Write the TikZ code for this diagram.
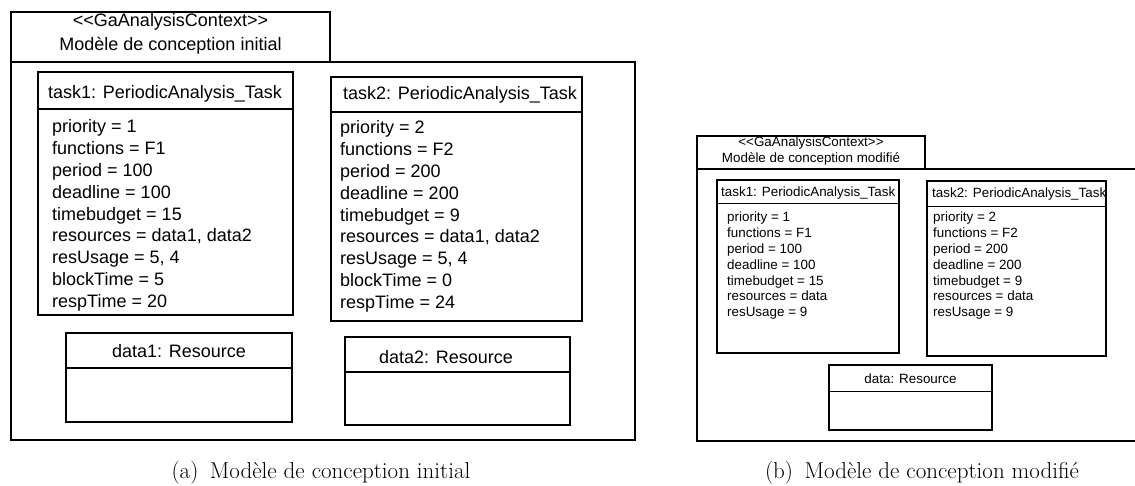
\documentclass[tikz,border=0pt]{standalone}
\usepackage{fontspec}
\newfontfamily\umlfont{Liberation Sans}
\begin{document}
\begin{tikzpicture}[x=1pt, y=-1pt,
    bigfont/.style={font=\umlfont\fontsize{18}{21}\selectfont, inner sep=0pt},
    smallfont/.style={font=\umlfont\fontsize{13.4}{15}\selectfont, inner sep=0pt},
    capfont/.style={font=\fontsize{23}{27}\selectfont, inner sep=0pt},
    bigbox/.style={line width=2.8pt},
    bigsep/.style={line width=1.6pt},
    smallbox/.style={line width=2.2pt},
    smallsep/.style={line width=1pt}]
    \useasboundingbox (0,0) rectangle (1135,486);

    % --- 1. Cadre du modèle initial ---
    \draw[bigbox] (11,12) rectangle (330,62);
    \draw[bigbox] (11,62) -- (635,62) -- (635,440) -- (11,440) -- cycle;
    \node[bigfont, anchor=base] (ctxA) at (170.5,27) {<\kern0pt<GaAnalysisContext>\kern0pt>};
    \node[bigfont, anchor=base] (nameA) at (170.5,51) {Modèle de conception initial};

    % --- 2. task1 (initial) ---
    \draw[bigbox] (38,72) rectangle (293,315);
    \draw[bigsep] (38,109) -- (293,109);
    \node[bigfont, anchor=base west] (taskA) at (48,99) {task1: PeriodicAnalysis\_Task};
    \foreach \txt [count=\i from 0] in {priority = 1, functions = F1, period = 100,
        deadline = 100, timebudget = 15, {resources = data1, data2},
        {resUsage = 5, 4}, blockTime = 5, respTime = 20}
      \node[bigfont, anchor=base west] (taskA\i) at (52,133+21.8*\i) {\txt};

    % --- 3. task2 (initial) ---
    \draw[bigbox] (331,77) rectangle (582,321);
    \draw[bigsep] (331,112) -- (582,112);
    \node[bigfont, anchor=base west] (taskB) at (343,100) {task2: PeriodicAnalysis\_Task};
    \foreach \txt [count=\i from 0] in {priority = 2, functions = F2, period = 200,
        deadline = 200, timebudget = 9, {resources = data1, data2},
        {resUsage = 5, 4}, blockTime = 0, respTime = 24}
      \node[bigfont, anchor=base west] (taskB\i) at (340,134+21.8*\i) {\txt};

    % --- 4. Ressources data1, data2 ---
    \draw[bigbox] (66,333) rectangle (292,422);
    \draw[bigsep] (66,368) -- (292,368);
    \node[bigfont, anchor=base] (dataA) at (179,357) {data1: Resource};
    \draw[bigbox] (345,337) rectangle (570,425);
    \draw[bigsep] (345,372) -- (570,372);
    \node[bigfont, anchor=base] (dataB) at (446,363) {data2: Resource};

    % --- 5. Cadre du modèle modifié (coupé à droite) ---
    \draw[smallbox] (697,136) rectangle (925,169);
    \draw[smallbox] (1135,169) -- (697,169) -- (697,441) -- (1135,441);
    \node[smallfont, anchor=base] (ctxB) at (811,147) {<\kern0pt<GaAnalysisContext>\kern0pt>};
    \node[smallfont, anchor=base] (nameB) at (811,163) {Modèle de conception modifié};

    % --- 6. task1 (modifié) ---
    \draw[smallbox] (717,180) rectangle (899,353);
    \draw[smallsep] (717,204) -- (899,204);
    \node[smallfont, anchor=base west] (taskC) at (721,197) {task1: PeriodicAnalysis\_Task};
    \foreach \txt [count=\i from 0] in {priority = 1, functions = F1, period = 100,
        deadline = 100, timebudget = 15, resources = data, resUsage = 9}
      \node[smallfont, anchor=base west] (taskC\i) at (727,222+15.8*\i) {\txt};

    % --- 7. task2 (modifié) ---
    \draw[smallbox] (927,181) rectangle (1106,356);
    \draw[smallsep] (927,207) -- (1106,207);
    \node[smallfont, anchor=base west] (taskD) at (932,198) {task2: PeriodicAnalysis\_Task};
    \foreach \txt [count=\i from 0] in {priority = 2, functions = F2, period = 200,
        deadline = 200, timebudget = 9, resources = data, resUsage = 9}
      \node[smallfont, anchor=base west] (taskD\i) at (933,222+15.8*\i) {\txt};

    % --- 8. Ressource data ---
    \draw[smallbox] (829,365) rectangle (992,430);
    \draw[smallsep] (829,391) -- (992,391);
    \node[smallfont, anchor=base] (dataC) at (910.5,383) {data: Resource};

    % --- 9. Légendes ---
    \node[capfont, anchor=base] (capA) at (321,478) {(a)\enspace Modèle de conception initial};
    \node[capfont, anchor=base] (capB) at (922,478) {(b)\enspace Modèle de conception modifié};
\end{tikzpicture}
\end{document}
